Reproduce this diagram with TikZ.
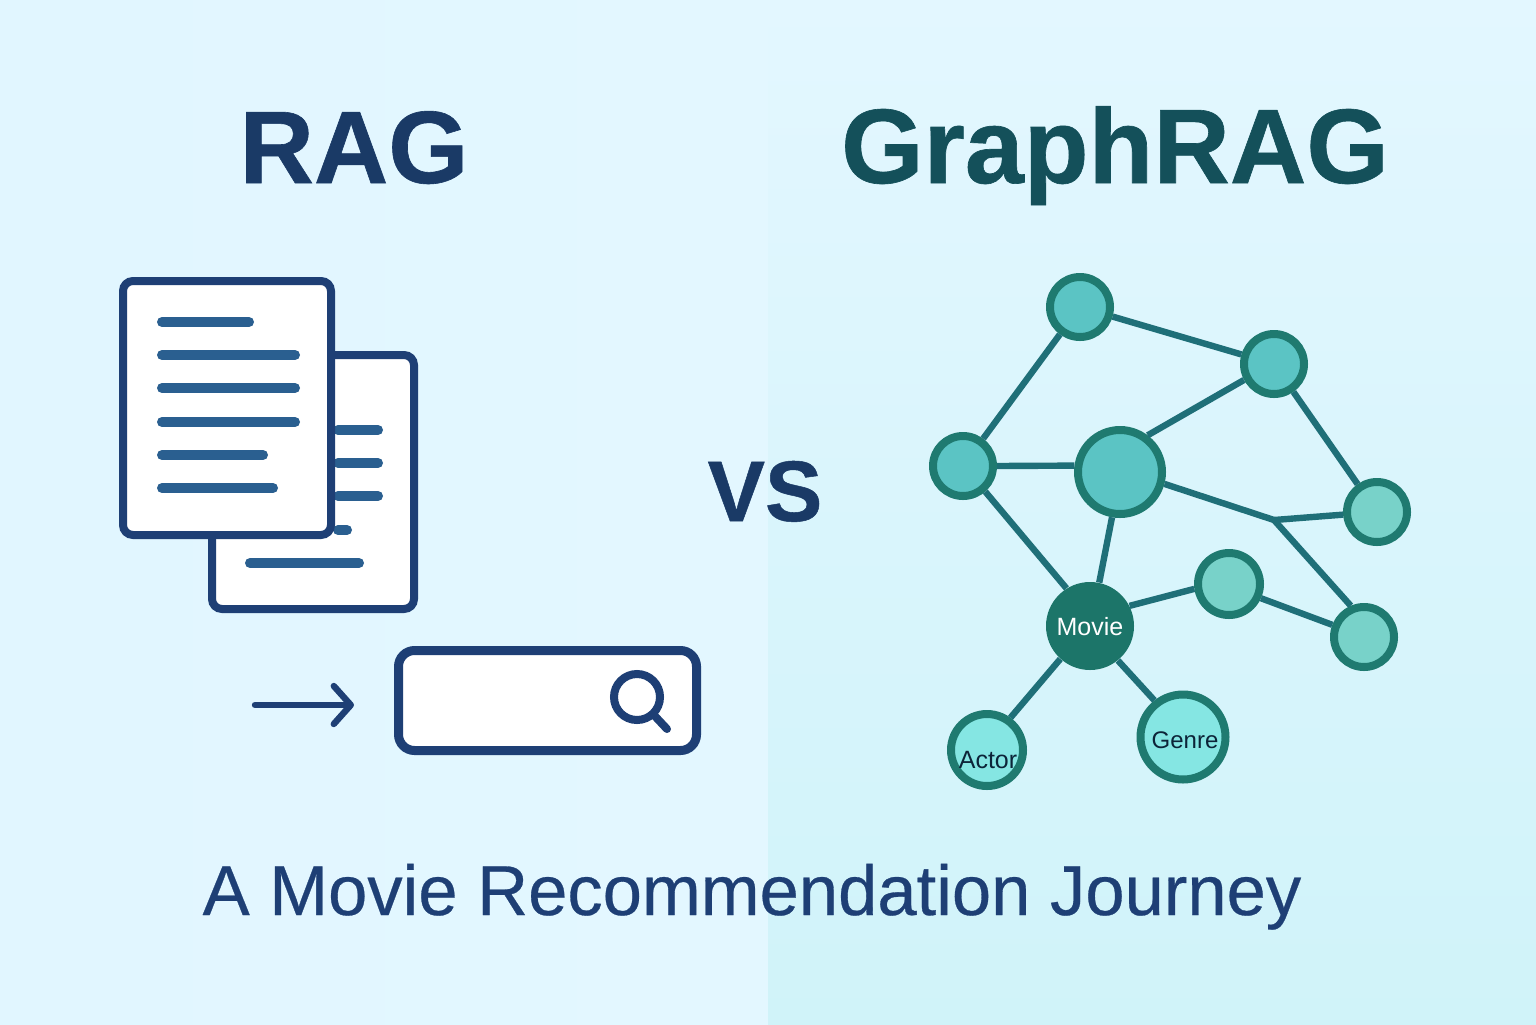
\documentclass[tikz,border=0pt]{standalone}
\usepackage{fontspec}
\setmainfont{Liberation Sans}
\newfontfamily\mediumfont[FakeBold=0.4]{Liberation Sans}
\newfontfamily\heavyfont[UprightFont=* Bold,FakeBold=0.6]{Liberation Sans}
\usetikzlibrary{arrows.meta,positioning,calc}

\definecolor{bgleft}{HTML}{E3F7FF}
\definecolor{bglefttop}{HTML}{E1F6FF}
\definecolor{bgrightlow}{HTML}{D0F3F9}
\definecolor{navy}{HTML}{1E3F75}
\definecolor{rowblue}{HTML}{2A5F90}
\definecolor{titleblue}{HTML}{1A3A66}
\definecolor{titleteal}{HTML}{14505A}
\definecolor{ringteal}{HTML}{1F7A70}
\definecolor{edgeteal}{HTML}{1F6F78}
\definecolor{moviefill}{HTML}{1C7569}
\definecolor{nodeblue}{HTML}{5BC4C4}
\definecolor{nodegreen}{HTML}{78D2C9}
\definecolor{nodelight}{HTML}{85E6E3}
\definecolor{tagdark}{HTML}{0C2438}

\begin{document}
\begin{tikzpicture}[
  x=0.5pt, y=-0.5pt,
  page/.style={draw=navy, line width=4pt, fill=white, rounded corners=5pt,
               minimum height=127pt, inner sep=0pt, outer sep=0pt},
  row/.style={rowblue, line width=5pt, line cap=round},
  gnode/.style={circle, draw=ringteal, line width=4pt, inner sep=0pt, fill=nodeblue},
  small/.style={gnode, minimum size=30pt},
  greenn/.style={small, fill=nodegreen},
  kind/.style={gnode, fill=nodelight},
  link/.style={edgeteal, line width=3.2pt},
  title/.style={inner sep=0pt, anchor=base},
  tag/.style={inner sep=0pt},
]

% ---- background --------------------------------------------------------
\fill[left color=bglefttop, right color=bgleft] (0,0) rectangle (768,1024);
\fill[shading angle=200, top color=bgleft, bottom color=bgrightlow] (768,0) rectangle (1536,1024);
\useasboundingbox (0,0) rectangle (1536,1024);

% ---- titles ------------------------------------------------------------
\node[title, text=titleblue, font=\fontsize{51.5}{60}\selectfont\heavyfont] (rag) at (354,183) {RAG};
\node[title, text=titleteal, font=\fontsize{53}{60}\selectfont\heavyfont] (graphrag) at (1115,183) {GraphRAG};
\node[title, text=titleblue, font=\fontsize{43}{50}\selectfont\heavyfont] (vs) at (765,521) {VS};
\node[tag, anchor=base, text=navy, font=\fontsize{35.3}{40}\selectfont\mediumfont] (journey) at (752,915) {A Movie Recommendation Journey};

% ---- documents ---------------------------------------------------------
\node[page, minimum width=101pt] (backpage) at (313,482) {};
\foreach \y/\xa/\xb in {430/338/378, 463/338/378, 496/338/378, 530/338/347, 563/250/359}
  \draw[row] (\xa,\y) -- (\xb,\y);
\node[page, minimum width=104pt] (frontpage) at (227,408) {};
\foreach \y/\xb in {322/249, 355/295, 388/295, 422/295, 455/263, 488/273}
  \draw[row] (162,\y) -- (\xb,\y);

% ---- search box --------------------------------------------------------
\node[draw=navy, line width=4.5pt, fill=white, rounded corners=8pt, inner sep=0pt,
      outer sep=0pt, minimum width=149pt, minimum height=50pt] (searchbox) at (547.5,700.5) {};
\node[circle, draw=navy, line width=4pt, minimum size=23pt, inner sep=0pt] (lens) at (637,697) {};
\coordinate (handle) at (667,729);
\draw[navy, line width=4pt, line cap=round] (lens) -- (handle);
\coordinate (arrowstart) at (255,705);
\coordinate (arrowend) at (354,705);
\draw[navy, line width=3.2pt, line cap=round,
      -{Straight Barb[round, length=8.5pt, width=19pt]}] (arrowstart) -- (arrowend);

% ---- graph -------------------------------------------------------------
\node[small] (top) at (1080,307) {};
\node[small] (upper) at (1274,364) {};
\node[small] (left) at (963,466) {};
\node[gnode, minimum size=42pt] (hub) at (1120,472) {};
\node[greenn] (right) at (1377,512) {};
\node[greenn, minimum size=31pt] (mid) at (1229,584) {};
\node[greenn] (lower) at (1364,637) {};
\node[circle, fill=moviefill, minimum size=44pt, inner sep=0pt] (movie) at (1090,626) {};
\node[kind, minimum size=36pt] (actor) at (987,750) {};
\node[kind, minimum size=42.5pt] (genre) at (1183,737) {};
\coordinate (fork) at (1274,520);

\node[tag, text=white, font=\fontsize{12.5}{15}\selectfont] (movietag) at (1090,627) {Movie};
\node[tag, text=tagdark, font=\fontsize{12.5}{15}\selectfont] (actortag) at (988,760) {Actor};
\node[tag, text=tagdark, font=\fontsize{12}{15}\selectfont] (genretag) at (1185,740) {Genre};

\draw[link] (top) -- (upper);
\draw[link] (top) -- (left);
\draw[link] (upper.208) -- (hub.53);
\draw[link] (upper) -- (right);
\draw[link] (left.0) -- (hub.172);
\draw[link] (left.-49) -- (movie.122);
\draw[link] (hub.260) -- (movie.78);
\draw[link] (hub.-15) -- (fork);
\draw[link] (fork) -- (right);
\draw[link] (fork) -- (lower.113);
\draw[link] (movie.27) -- (mid.188);
\draw[link] (mid.-24) -- (lower.159);
\draw[link] (movie.228) -- (actor.54);
\draw[link] (movie.-51) -- (genre.128);

\end{tikzpicture}
\end{document}
